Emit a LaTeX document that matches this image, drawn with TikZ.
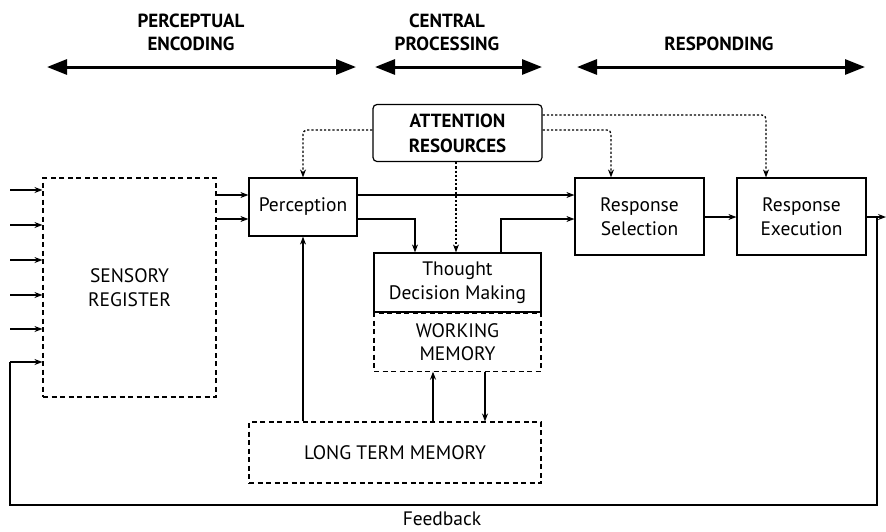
\documentclass[tikz,border=0pt]{standalone}
\usepackage{fontspec}
\setmainfont{PT Sans}
\usetikzlibrary{arrows.meta}
\begin{document}
\begin{tikzpicture}[x=1pt,y=-1pt,
  font=\fontsize{19.5}{24}\selectfont,
  box/.style={draw,line width=1.2pt,inner sep=0pt},
  dbox/.style={draw,line width=1.1pt,dash pattern=on 5pt off 3.5pt,inner sep=0pt},
  conn/.style={line width=1.1pt,-{Stealth[length=8pt,width=6pt]}},
  plain/.style={line width=1.1pt},
  dot/.style={line width=1.3pt,dash pattern=on 2.2pt off 2pt,rounded corners=4pt,-{Stealth[length=8pt,width=6pt]}},
  phase/.style={line width=3pt,{Triangle[length=20pt,width=15pt]}-{Triangle[length=20pt,width=15pt]}},
  head/.style={font=\fontsize{19}{23}\selectfont\bfseries,align=center,inner sep=0pt}]
\useasboundingbox (0,0) rectangle (886,531);

% phase headings and their double arrows
\node[head] (hpe) at (191,32) {PERCEPTUAL\\ENCODING};
\node[head] (hcp) at (447,32) {CENTRAL\\PROCESSING};
\node[head,anchor=base] (hre) at (719,50) {RESPONDING};
\coordinate (pe1) at (47,67); \coordinate (pe2) at (356,67);
\coordinate (cp1) at (375,67); \coordinate (cp2) at (542,67);
\coordinate (re1) at (577,67); \coordinate (re2) at (865,67);
\draw[phase] (pe1) -- (pe2);
\draw[phase] (cp1) -- (cp2);
\draw[phase] (re1) -- (re2);

% boxes
\node[box,rounded corners=4pt,minimum width=169pt,minimum height=57pt,font=\fontsize{19}{25}\selectfont\bfseries,align=center] (att) at (457.5,133) {ATTENTION\\RESOURCES};
\node[dbox,minimum width=173pt,minimum height=219pt,align=center] (sens) at (129.5,287.5) {SENSORY\\REGISTER};
\node[box,minimum width=108pt,minimum height=58pt] (perc) at (303,207) {Perception};
\node[box,minimum width=129pt,minimum height=77pt,align=center] (rsel) at (639.5,216.5) {Response\\Selection};
\node[box,minimum width=129pt,minimum height=77pt,align=center] (rexe) at (801.5,216.5) {Response\\Execution};
\node[box,minimum width=167pt,minimum height=59pt,align=center] (thought) at (457.5,282.5) {Thought\\Decision Making};
\node[dbox,minimum width=167pt,minimum height=58pt,align=center,anchor=north,font=\fontsize{19.5}{23}\selectfont] (wm) at (thought.south) {WORKING\\MEMORY};
\draw[box] (thought.south west) -- (thought.south east);
\node[dbox,minimum width=292pt,minimum height=61pt] (ltm) at (395,452.5) {LONG TERM MEMORY};
\node[anchor=base,inner sep=0pt] (fb) at (442,525.5) {Feedback};

% sensory inputs
\foreach \yy/\nm in {190/i1,225/i2,260/i3,295/i4,329/i5}{
  \coordinate (\nm) at (10,\yy);
  \draw[conn] (\nm) -- (sens.west |- \nm);
}

% sensory register to perception
\draw[conn] (sens.east |- 0,195) -- (perc.west |- 0,195);
\draw[conn] (sens.east |- 0,219) -- (perc.west |- 0,219);

% perception onward
\draw[conn] (perc.east |- 0,195) -- (rsel.west |- 0,195);
\draw[conn] (perc.east |- 0,219) -| (thought.north -| 415,0);
\draw[conn] (thought.north -| 501,0) |- (rsel.west |- 0,219);
\draw[conn] (rsel.east |- 0,217) -- (rexe.west |- 0,217);

% memory links
\draw[conn] (ltm.north -| perc.south) -- (perc.south);
\draw[conn] (ltm.north -| 433,0) -- (wm.south -| 433,0);
\draw[conn] (wm.south -| 485,0) -- (ltm.north -| 485,0);

% attention allocation
\draw[dot] (att.west |- 0,130) -| (perc.north);
\draw[dot] (att.south -| 456,0) -- (thought.north -| 456,0);
\draw[dot] (att.east |- 0,130) -| (rsel.north -| 611,0);
\draw[dot] (att.east |- 0,115) -| (rexe.north -| 766,0);

% output and feedback loop
\coordinate (out) at (886,217);
\coordinate (fbr) at (877,505);
\coordinate (fbl) at (10,505);
\coordinate (fbin) at (10,362);
\draw[conn] (rexe.east |- out) -- (out);
\draw[plain] (fbr |- out) ++(0,-0.5) -- (fbr) -- (fbl) -- (fbin);
\draw[conn] (fbin) -- (sens.west |- fbin);
\end{tikzpicture}
\end{document}
